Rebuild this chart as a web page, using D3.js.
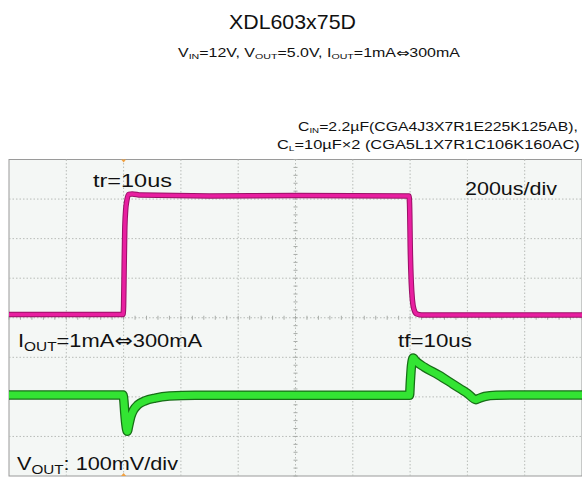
<!DOCTYPE html>
<html><head><meta charset="utf-8">
<script src="https://cdn.jsdelivr.net/npm/d3@7"></script>
<style>
body{margin:0;background:#fff;}
svg{display:block;font-family:"Liberation Sans",Arial,sans-serif;}
</style></head>
<body>
<svg id="c" width="582" height="478"></svg>
<script>
// ---- data (time in us, value in scope divisions) ----
const timeTicks = [0,200,400,600,800,1000,1200,1400,1600,1800,2000];
const divTicks = [-4,-3,-2,-1,0,1,2,3,4];
const iOutTrace = [[0,0.08],[398,0.08],[400,0.3],[402,1.3],[404,2.2],[407,2.7],[411,2.95],[418,3.12],[430,3.13],[460,3.1],[700,3.08],[1000,3.09],[1396,3.08],[1398,2.9],[1401,1.6],[1404,0.9],[1408,0.45],[1414,0.2],[1422,0.1],[1440,0.07],[2000,0.07]];
const vOutTrace = [[0,-1.95],[398,-1.95],[401,-2.1],[404,-2.4],[408,-2.7],[413,-2.87],[418,-2.72],[425,-2.5],[435,-2.33],[450,-2.2],[475,-2.1],[510,-2.03],[560,-1.98],[650,-1.96],[1398,-1.96],[1401,-1.6],[1405,-1.2],[1411,-1.02],[1418,-1.08],[1450,-1.25],[1500,-1.45],[1550,-1.68],[1600,-1.91],[1630,-2.07],[1640,-2.04],[1660,-1.99],[1700,-1.96],[1800,-1.95],[2000,-1.95]];
const triggerTime = [400];

const svg = d3.select("#c");
const L=9, R=582, T=159.5, B=476;
const x = d3.scaleLinear().domain([0,2000]).range([L,R]);
const y = d3.scaleLinear().domain([-4,4]).range([B,T]);

// text helper: parts with subscripts, fitted to a target left / width
function label(parent, x0, y0, width, size, subSize, shift, parts, arrowFont){
  const gg = parent.append("g");
  const t = gg.append("text").attr("x",0).attr("y",0).attr("font-size",size).attr("fill","#111");
  let pending = 0;
  parts.forEach(p=>{
    if(p.s){ t.append("tspan").attr("font-size",subSize).attr("dy",shift - pending).text(p.s); pending = shift; }
    else {
      const segs = p.t.split("\u21D4");
      segs.forEach((s,i)=>{
        if(i>0){ t.append("tspan").attr("font-family","DejaVu Sans").attr("dy",-pending).text("\u21D4"); pending=0; }
        if(s.length){ t.append("tspan").attr("dy",-pending).text(s); pending=0; }
      });
    }
  });
  const bb = t.node().getBBox();
  const k = width ? width/bb.width : 1;
  gg.attr("transform",`translate(${x0 - bb.x*k},${y0}) scale(${k},1)`);
  return gg;
}

label(svg,229,29,127,20,14,4,[{t:"XDL603x75D"}]);
label(svg,178,57,282,12,8,2,[{t:"V"},{s:"IN"},{t:"=12V, V"},{s:"OUT"},{t:"=5.0V, I"},{s:"OUT"},{t:"=1mA\u21D4300mA"}]);
label(svg,298,131,280,13,8,2,[{t:"C"},{s:"IN"},{t:"=2.2\u00B5F(CGA4J3X7R1E225K125AB),"}]);
label(svg,277,149,303,13,8,2,[{t:"C"},{s:"L"},{t:"=10\u00B5F\u00D72 (CGA5L1X7R1C106K160AC)"}]);

// plot background
svg.append("rect").attr("x",L).attr("y",T).attr("width",R-L).attr("height",B-T).attr("fill","#f4f7f5").attr("stroke","#9a9a9a").attr("stroke-width",1);

const g = svg.append("g");
// grid
g.selectAll(".vg").data(timeTicks.slice(1,-1)).join("line")
 .attr("x1",d=>x(d)).attr("x2",d=>x(d)).attr("y1",T).attr("y2",B)
 .attr("stroke","#b8bcb8").attr("stroke-width",1).attr("stroke-dasharray","1.5,2");
g.selectAll(".hg").data(divTicks.slice(1,-1)).join("line")
 .attr("y1",d=>y(d)).attr("y2",d=>y(d)).attr("x1",L).attr("x2",R)
 .attr("stroke","#b8bcb8").attr("stroke-width",1).attr("stroke-dasharray","1.5,2");
// minor ticks on center axes
const xm = d3.range(0,2001,40), ym = d3.range(-4,4.001,0.2);
g.selectAll(".xt").data(xm).join("line").attr("x1",d=>x(d)).attr("x2",d=>x(d)).attr("y1",y(0)-2).attr("y2",y(0)+2).attr("stroke","#a8aca8");
g.selectAll(".yt").data(ym).join("line").attr("y1",d=>y(d)).attr("y2",d=>y(d)).attr("x1",x(1000)-2).attr("x2",x(1000)+2).attr("stroke","#a8aca8");

// traces
const line = d3.line().x(d=>x(d[0])).y(d=>y(d[1])).curve(d3.curveMonotoneX);
function band(data, outer, inner, wo, wi){
  g.append("path").datum(data).attr("d",line).attr("fill","none").attr("stroke",outer).attr("stroke-width",wo).attr("stroke-linejoin","round");
  g.append("path").datum(data).attr("d",line).attr("fill","none").attr("stroke",inner).attr("stroke-width",wi).attr("stroke-linejoin","round");
}
band(iOutTrace,"#9a1066","#e81fa0",5.5,3.5);
band(vOutTrace,"#176e17","#33e433",9.5,7);

// trigger markers
g.selectAll(".tm").data(triggerTime).join("path")
 .attr("d",d=>`M${x(d)-2.5},${T}L${x(d)+2.5},${T}L${x(d)},${T+3}Z`).attr("fill","#f0a040");
g.selectAll(".bm").data(triggerTime).join("path")
 .attr("d",d=>`M${x(d)-2.5},${B}L${x(d)+2.5},${B}L${x(d)},${B-3}Z`).attr("fill","#f0a040");

// labels inside plot
label(svg,93,187,79,18.5,13,4,[{t:"tr=10us"}]);
label(svg,465,195,93,18.5,13,4,[{t:"200us/div"}]);
label(svg,18,347,185,18.5,13,4,[{t:"I"},{s:"OUT"},{t:"=1mA\u21D4300mA"}]);
label(svg,398,347,74,18.5,13,4,[{t:"tf=10us"}]);
label(svg,17,470,162,18.5,13,4,[{t:"V"},{s:"OUT"},{t:": 100mV/div"}]);
</script>
</body></html>
